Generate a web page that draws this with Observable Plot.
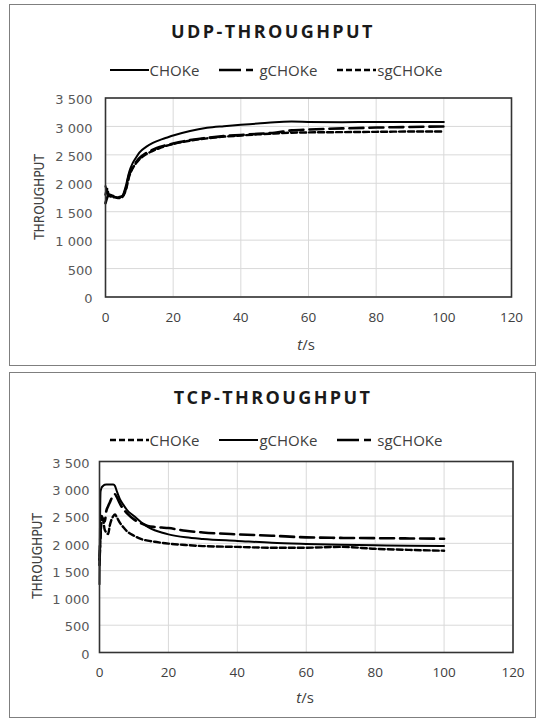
<!DOCTYPE html>
<html>
<head>
<meta charset="utf-8">
<script src="https://cdn.jsdelivr.net/npm/d3@7"></script>
<script src="https://cdn.jsdelivr.net/npm/@observablehq/plot@0.6"></script>
<style>
  body { margin: 0; background: #fff; width: 545px; height: 718px; position: relative; overflow: hidden; }
  .panel { position: absolute; left: 9px; width: 527px; border: 1px solid #7f7f7f; box-sizing: border-box; }
  .title { position: absolute; left: 9px; width: 528px; text-align: center; font-family: "Open Sans", sans-serif; font-weight: 700; font-size: 18px; letter-spacing: 2.4px; color: #1a1a1a; line-height: 20px; }
  .legend { position: absolute; left: 12px; width: 528px; display: flex; justify-content: center; align-items: center; font-family: "Open Sans", sans-serif; font-size: 15px; color: #404040; line-height: 16px; }
  .legend .item { display: flex; align-items: center; margin: 0 10px; }
  .legend svg { margin-right: 1px; }
  .ylab { position: absolute; font-family: "DejaVu Sans Condensed", "DejaVu Sans", sans-serif; font-size: 13.5px; color: #404040; transform: translate(-50%, -50%) rotate(-90deg); white-space: nowrap; }
  .xlab { position: absolute; font-family: "Open Sans", sans-serif; font-size: 15px; color: #404040; transform: translate(-50%, -50%); }
  .chart { position: absolute; left: 0; }
</style>
</head>
<body>
<script>
// ---------- data ----------
const xTicks = [0, 20, 40, 60, 80, 100, 120];
const yTicks = [0, 500, 1000, 1500, 2000, 2500, 3000, 3500];

const udpT = [0,0.5,1,2,3,4,5,6,7,8,9,10,12,14,16,18,20,25,30,35,40,45,50,55,60,70,80,90,100];
const udpCHOKe = [1950,1850,1790,1770,1760,1750,1780,1950,2200,2350,2450,2540,2640,2710,2760,2800,2840,2920,2975,3005,3030,3050,3075,3085,3080,3075,3080,3080,3080];
const udpGCHOKe = [1650,1750,1800,1780,1770,1760,1770,1900,2150,2280,2370,2440,2530,2590,2640,2670,2700,2760,2800,2830,2850,2870,2890,2930,2945,2965,2980,2990,3000];
const udpSGCHOKe = [1800,1900,1780,1760,1750,1740,1760,1880,2120,2260,2350,2420,2510,2570,2620,2660,2690,2750,2790,2820,2840,2860,2875,2890,2895,2900,2905,2910,2910];

const tcpT = [0,0.3,0.6,1,1.5,2,2.5,3,4,4.5,5,6,7,8,10,12,14,16,18,20,25,30,40,50,60,70,80,90,100];
const tcpCHOKe = [1600,2100,2400,2450,2250,2200,2170,2330,2500,2530,2480,2370,2290,2220,2140,2080,2050,2030,2010,1995,1970,1950,1935,1920,1920,1935,1900,1880,1865];
const tcpGCHOKe = [1250,2950,3020,3050,3075,3080,3080,3080,3080,3050,2960,2800,2700,2610,2500,2390,2300,2240,2200,2165,2110,2080,2045,2010,1990,1975,1965,1955,1950];
const tcpSGCHOKe = [1700,2200,2500,2450,2400,2600,2680,2750,2880,2900,2850,2720,2620,2550,2440,2370,2320,2300,2290,2280,2230,2200,2165,2140,2110,2100,2095,2090,2085];

const seriesNames = ["CHOKe", "gCHOKe", "sgCHOKe"];

// ---------- styles ----------
const STY = {
  solid: { dash: null, width: 2 },
  long: { dash: "14,6", width: 2.6 },
  short: { dash: "6,3", width: 2.4 }
};

const fmtY = d => d >= 1000 ? `${Math.floor(d / 1000)} ${String(d % 1000).padStart(3, "0")}` : String(d);

function makeChart(cfg) {
  const marks = [
    Plot.gridX(xTicks, { stroke: "#d9d9d9", strokeOpacity: 1 }),
    Plot.gridY(yTicks, { stroke: "#d9d9d9", strokeOpacity: 1 }),
  ];
  cfg.series.forEach((s) => {
    const data = cfg.t.map((t, i) => ({ t, v: s.values[i] }));
    marks.push(Plot.line(data, {
      x: "t", y: "v", stroke: "#000", strokeWidth: STY[s.style].width,
      strokeDasharray: STY[s.style].dash, curve: "monotone-x"
    }));
  });
  marks.push(Plot.frame({ stroke: "#333", strokeWidth: 1.6 }));
  marks.push(Plot.axisX(xTicks, { tickSize: 0, tickPadding: 15, fontSize: 13.5, fontFamily: "Open Sans", fill: "#404040", tickFormat: d => String(d) }));
  marks.push(Plot.axisY(yTicks, { tickSize: 0, tickPadding: cfg.ytp, fontSize: 13, fontFamily: "DejaVu Sans", fill: "#595959", tickFormat: fmtY, dy: 2 }));
  const svg = Plot.plot({
    width: 545, height: cfg.height,
    marginLeft: cfg.ml, marginRight: cfg.mr, marginTop: cfg.mt, marginBottom: cfg.mb,
    x: { domain: [0, 120], label: null },
    y: { domain: [0, 3500], label: null },
    style: { background: "transparent", overflow: "visible" },
    marks
  });
  svg.classList.add("chart");
  svg.style.top = cfg.top + "px";
  return svg;
}

function legend(items, top) {
  const div = document.createElement("div");
  div.className = "legend";
  div.style.top = top + "px";
  items.forEach(it => {
    const item = document.createElement("div");
    item.className = "item";
    const st = STY[it.style];
    item.innerHTML = `<svg width="39" height="10"><line x1="0" x2="39" y1="5" y2="5" stroke="#000" stroke-width="${st.width}" ${st.dash ? `stroke-dasharray="${it.style === "long" ? "22,5,7" : "6,3"}"` : ""}/></svg><span>${it.name}</span>`;
    div.appendChild(item);
  });
  return div;
}

function addDiv(cls, text, styles) {
  const d = document.createElement("div");
  d.className = cls;
  d.innerHTML = text;
  Object.assign(d.style, styles);
  document.body.appendChild(d);
  return d;
}

// panels
addDiv("panel", "", { top: "4px", height: "362px" });
addDiv("panel", "", { top: "372px", height: "346px" });

// ---- UDP ----
addDiv("title", "UDP-THROUGHPUT", { top: "21px" });
document.body.appendChild(legend([
  { name: seriesNames[0], style: "solid" },
  { name: seriesNames[1], style: "long" },
  { name: seriesNames[2], style: "short" }
], 62));
document.body.appendChild(makeChart({
  top: 80, height: 280, ml: 105, mr: 34, mt: 17.5, mb: 63.5, ytp: 13,
  t: udpT,
  series: [
    { values: udpCHOKe, style: "solid" },
    { values: udpGCHOKe, style: "long" },
    { values: udpSGCHOKe, style: "short" }
  ]
}));
addDiv("ylab", "THROUGHPUT", { left: "39px", top: "197px" });
addDiv("xlab", "<i>t</i>/s", { left: "306px", top: "344px" });

// ---- TCP ----
addDiv("title", "TCP-THROUGHPUT", { top: "387px" });
document.body.appendChild(legend([
  { name: seriesNames[0], style: "short" },
  { name: seriesNames[1], style: "solid" },
  { name: seriesNames[2], style: "long" }
], 432));
document.body.appendChild(makeChart({
  top: 450, height: 262, ml: 99, mr: 32.5, mt: 11, mb: 60, ytp: 10,
  t: tcpT,
  series: [
    { values: tcpCHOKe, style: "short" },
    { values: tcpGCHOKe, style: "solid" },
    { values: tcpSGCHOKe, style: "long" }
  ]
}));
addDiv("ylab", "THROUGHPUT", { left: "37px", top: "556px" });
addDiv("xlab", "<i>t</i>/s", { left: "305px", top: "697px" });
</script>
</body>
</html>
